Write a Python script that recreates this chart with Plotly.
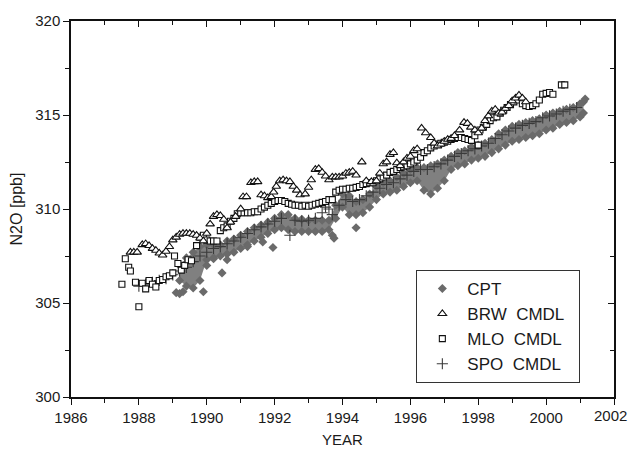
import plotly.graph_objects as go

# ---------------- data ----------------
# CPT: dense measurements forming a band -> lower / upper envelope every 0.2 yr
cpt_year = [1989.2, 1989.4, 1989.6, 1989.8, 1990.0, 1990.2, 1990.4, 1990.6, 1990.8,
            1991.0, 1991.2, 1991.4, 1991.6, 1991.8, 1992.0, 1992.2, 1992.4, 1992.6,
            1992.8, 1993.0, 1993.2, 1993.4, 1993.6, 1993.8, 1994.0, 1994.2, 1994.4,
            1994.6, 1994.8, 1995.0, 1995.2, 1995.4, 1995.6, 1995.8, 1996.0, 1996.2,
            1996.4, 1996.6, 1996.8, 1997.0, 1997.2, 1997.4, 1997.6, 1997.8, 1998.0,
            1998.2, 1998.4, 1998.6, 1998.8, 1999.0, 1999.2, 1999.4, 1999.6, 1999.8,
            2000.0, 2000.2, 2000.4, 2000.6, 2000.8, 2001.0, 2001.1]
cpt_low = [306.2, 305.9, 305.8, 306.2, 307.3, 307.4, 307.5, 307.6, 307.7,
           307.9, 308.1, 308.3, 308.5, 308.7, 308.9, 309.0, 308.9, 308.8,
           308.8, 308.8, 308.8, 308.8, 308.9, 309.5, 310.1, 309.7, 309.7,
           309.8, 310.1, 310.5, 310.8, 310.9, 311.0, 311.2, 311.4, 311.5,
           311.0, 310.8, 311.1, 311.5, 312.1, 312.3, 312.4, 312.6, 312.7,
           312.8, 313.0, 313.2, 313.4, 313.6, 313.7, 313.8, 313.9, 314.0,
           314.2, 314.3, 314.5, 314.6, 314.7, 314.9, 315.1]
cpt_high = [307.0, 307.4, 307.7, 308.0, 308.1, 308.1, 308.1, 308.3, 308.4,
            308.6, 308.8, 309.0, 309.15, 309.3, 309.5, 309.7, 309.7, 309.5,
            309.45, 309.4, 309.4, 309.4, 309.4, 310.2, 310.8, 310.7, 310.4,
            310.5, 310.8, 311.2, 311.4, 311.5, 311.7, 311.9, 312.1, 312.2,
            312.2, 312.3, 312.4, 312.6, 312.8, 313.0, 313.1, 313.3, 313.4,
            313.5, 313.7, 314.0, 314.2, 314.4, 314.5, 314.6, 314.7, 314.8,
            315.0, 315.1, 315.2, 315.3, 315.4, 315.6, 315.7]
# CPT isolated measurements
cpt_iso_year = [1989.1, 1989.2, 1989.3, 1989.9, 1990.0, 1990.2, 1990.45, 1990.6,
                1991.2, 1991.65, 1991.95, 1993.7, 1993.75, 1994.4, 2001.15]
cpt_iso_val = [305.55, 305.5, 305.6, 305.6, 307.0, 307.35, 306.6, 307.3,
               308.0, 308.25, 307.95, 308.6, 308.45, 309.0, 315.85]

brw_year = [1987.75, 1987.85, 1987.95, 1988.1, 1988.2, 1988.3, 1988.4, 1988.5, 1988.6,
            1988.7, 1988.8, 1988.9, 1989.0, 1989.1, 1989.2, 1989.3, 1989.4, 1989.5,
            1989.6, 1989.7, 1989.8, 1989.9, 1990.0, 1990.1, 1990.2, 1990.3, 1990.4,
            1990.5, 1990.6, 1990.7, 1990.85, 1991.0, 1991.07, 1991.17, 1991.3, 1991.4,
            1991.5, 1991.6, 1991.7, 1991.8, 1991.9, 1991.97, 1992.05, 1992.15, 1992.25,
            1992.35, 1992.45, 1992.55, 1992.65, 1992.75, 1992.9, 1993.0, 1993.08, 1993.2,
            1993.3, 1993.4, 1993.5, 1993.6, 1993.7, 1993.8, 1993.9, 1994.0, 1994.1,
            1994.2, 1994.3, 1994.4, 1994.57, 1994.7, 1994.85, 1995.0, 1995.1, 1995.2,
            1995.3, 1995.4, 1995.5, 1995.6, 1995.7, 1995.8, 1995.9, 1996.0, 1996.1,
            1996.2, 1996.33, 1996.45, 1996.6, 1996.7, 1996.8, 1996.9, 1997.0, 1997.1,
            1997.2, 1997.3, 1997.45, 1997.58, 1997.68, 1997.78, 1997.9, 1998.0, 1998.1,
            1998.2, 1998.3, 1998.4, 1998.5, 1998.6, 1998.7, 1998.8, 1998.9, 1999.0,
            1999.1, 1999.2, 1999.3, 1999.4]
brw_val = [307.7, 307.7, 307.7, 308.1, 308.15, 308.05, 307.9, 307.8, 307.65,
           307.55, 307.75, 308.0, 308.35, 308.5, 308.65, 308.7, 308.7, 308.7,
           308.65, 308.6, 308.45, 308.3, 308.7, 309.2, 309.6, 309.7, 309.65,
           309.45, 309.0, 309.3, 309.6, 310.0, 310.65, 310.65, 311.4, 311.45,
           311.45, 310.75, 310.7, 310.6, 310.65, 310.9, 311.2, 311.5, 311.55,
           311.5, 311.45, 311.2, 311.0, 310.75, 310.8, 311.15, 311.55, 312.1,
           312.15, 311.95, 311.75, 311.55, 311.7, 311.7, 311.7, 311.75, 311.9,
           311.95, 312.0, 311.8, 312.5, 311.5, 311.45, 311.5, 311.9, 312.4,
           312.5, 312.9, 313.0, 312.45, 312.3, 312.5, 312.7, 312.8, 313.1,
           313.2, 314.3, 314.05, 313.8, 313.5, 313.35, 313.45, 313.6, 313.7,
           313.75, 313.9, 314.2, 314.6, 314.55, 314.35, 314.2, 314.05, 314.3,
           314.7, 314.95, 315.2, 315.3, 315.1, 315.15, 315.35, 315.5, 315.75,
           315.9, 316.05, 315.9, 315.7]

mlo_year = [1987.5, 1987.6, 1987.7, 1987.75, 1987.9, 1988.0, 1988.1, 1988.2, 1988.3,
            1988.4, 1988.5, 1988.6, 1988.7, 1988.8, 1988.9, 1989.0, 1989.05, 1989.15,
            1989.25, 1989.35, 1989.45, 1989.55, 1989.7, 1989.8, 1989.9, 1990.0, 1990.1,
            1990.2, 1990.3, 1990.4, 1990.5, 1990.6, 1990.7, 1990.8, 1990.9, 1991.0,
            1991.1, 1991.2, 1991.3, 1991.4, 1991.5, 1991.6, 1991.7, 1991.8, 1991.9,
            1992.0, 1992.1, 1992.2, 1992.3, 1992.4, 1992.5, 1992.6, 1992.7, 1992.8,
            1992.9, 1993.0, 1993.1, 1993.2, 1993.3, 1993.4, 1993.5, 1993.6, 1993.7,
            1993.8, 1993.9, 1994.0, 1994.1, 1994.2, 1994.3, 1994.4, 1994.5, 1994.6,
            1994.7, 1994.8, 1994.9, 1995.0, 1995.1, 1995.2, 1995.3, 1995.4, 1995.5,
            1995.6, 1995.7, 1995.8, 1995.9, 1996.0, 1996.1, 1996.2, 1996.3, 1996.4,
            1996.5, 1996.6, 1996.7, 1996.8, 1996.9, 1997.0, 1997.1, 1997.2, 1997.3,
            1997.4, 1997.5, 1997.6, 1997.7, 1997.8, 1997.9, 1998.0, 1998.05, 1998.15,
            1998.25, 1998.35, 1998.45, 1998.55, 1998.65, 1998.75, 1998.85, 1998.95,
            1999.05, 1999.15, 1999.3, 1999.4, 1999.5, 1999.6, 1999.7, 1999.8, 1999.9,
            2000.0, 2000.1, 2000.2, 2000.45, 2000.55]
mlo_val = [306.0, 307.35, 306.9, 306.7, 306.1, 304.8, 306.05, 305.75, 306.2,
           306.0, 305.85, 306.2, 306.25, 306.4, 306.45, 306.6, 307.5, 307.1,
           306.75, 307.0, 307.3, 307.25, 308.05, 308.5, 308.6, 308.35, 308.3,
           308.3, 308.3, 308.85, 309.0, 309.1, 309.35, 309.5, 309.75, 309.8,
           309.8, 309.8, 309.8, 309.85, 309.85, 310.0, 310.1, 310.2, 310.3,
           310.4, 310.45, 310.45, 310.4, 310.3, 310.25, 310.2, 310.2, 310.15,
           310.2, 310.15, 310.2, 310.25, 310.3, 310.35, 310.4, 310.5, 310.5,
           310.9, 311.0, 311.05, 311.05, 311.1, 311.1, 311.15, 311.2, 311.3,
           311.35, 311.4, 311.4, 311.5, 311.6, 311.7, 311.8, 311.95, 312.0,
           312.1, 312.2, 312.25, 312.3, 312.4, 312.5, 312.6, 312.75, 313.0,
           313.1, 313.25, 313.35, 313.45, 313.5, 313.55, 313.6, 313.7, 313.75,
           313.8, 313.8, 313.75, 313.7, 313.65, 313.9, 313.4, 314.2, 314.35,
           314.5, 314.7, 314.85, 314.9, 315.1, 315.25, 315.4, 315.55,
           315.7, 315.8, 315.6, 315.5, 315.45, 315.5, 315.6, 315.8, 316.1,
           316.15, 316.2, 316.1, 316.6, 316.6]

spo_year = [1988.0, 1988.2, 1988.4, 1988.6, 1988.8, 1989.0, 1989.2, 1989.4, 1989.6,
            1989.8, 1990.0, 1990.2, 1990.4, 1990.6, 1990.8, 1991.0, 1991.2, 1991.4,
            1991.6, 1991.8, 1992.0, 1992.2, 1992.45, 1992.6, 1992.8, 1993.0, 1993.2,
            1993.4, 1993.5, 1993.6, 1993.7, 1993.9, 1994.1, 1994.3, 1994.5, 1994.7,
            1994.9, 1995.1, 1995.3, 1995.5, 1995.7, 1995.9, 1996.1, 1996.3, 1996.5,
            1996.7, 1996.9, 1997.1, 1997.3, 1997.5, 1997.7, 1997.9, 1998.1, 1998.3,
            1998.5, 1998.7, 1998.9, 1999.1, 1999.3, 1999.5, 1999.7, 1999.9, 2000.1,
            2000.3, 2000.5, 2000.7, 2000.9]
spo_val = [305.9, 306.0, 306.1, 306.2, 306.3, 306.5, 306.7, 306.9, 307.2,
           307.5, 307.7, 307.9, 308.0, 308.15, 308.3, 308.5, 308.7, 308.9,
           309.05, 309.2, 309.35, 309.5, 308.6, 309.4, 309.35, 309.4, 309.5,
           309.8, 310.1, 310.0, 309.7, 310.2, 310.5, 310.4, 310.5, 310.7,
           310.9, 311.1, 311.3, 311.4, 311.6, 311.8, 312.0, 312.1, 312.1,
           312.25, 312.4, 312.6, 312.8, 312.95, 313.1, 313.2, 313.35, 313.5,
           313.75, 313.95, 314.15, 314.3, 314.45, 314.55, 314.65, 314.85, 314.95,
           315.05, 315.2, 315.3, 315.4]

x_ticks = [1986, 1988, 1990, 1992, 1994, 1996, 1998, 2000, 2002]
x_tick_text = ["1986", "1988", "1990", "1992", "1994", "1996", "1998", "2000", ""]
last_x_label = "2002"
y_ticks = [300, 305, 310, 315, 320]

# ---------------- figure ----------------
FONT = "Liberation Sans, Arial, sans-serif"
band_col = "#808080"
dia_col = "#6a6a6a"
NB = "\u00a0"

fig = go.Figure()

fig.add_trace(go.Scatter(x=cpt_year, y=cpt_low, mode="lines", line=dict(width=0, color=band_col),
                         showlegend=False, hoverinfo="skip"))
fig.add_trace(go.Scatter(x=cpt_year, y=cpt_high, mode="lines", line=dict(width=0, color=band_col),
                         fill="tonexty", fillcolor=band_col, showlegend=False, hoverinfo="skip"))
fig.add_trace(go.Scatter(x=cpt_year + cpt_year + cpt_iso_year, y=cpt_high + cpt_low + cpt_iso_val,
                         mode="markers", name="CPT", legendrank=1,
                         marker=dict(symbol="diamond", size=7, color=dia_col, line=dict(width=0))))
fig.add_trace(go.Scatter(x=spo_year, y=spo_val, mode="markers", name="SPO" + NB + " CMDL" + NB * 2, legendrank=4,
                         marker=dict(symbol="cross-thin", size=8, line=dict(width=1.1, color="#3a3a3a"))))
fig.add_trace(go.Scatter(x=mlo_year, y=mlo_val, mode="markers", name="MLO" + NB + " CMDL", legendrank=3,
                         marker=dict(symbol="square", size=6, color="white", line=dict(width=1.1, color="#111111"))))
fig.add_trace(go.Scatter(x=brw_year, y=brw_val, mode="markers", name="BRW" + NB + " CMDL" + NB * 2, legendrank=2,
                         marker=dict(symbol="triangle-up", size=7.5, color="white", line=dict(width=1.1, color="#111111"))))
# invisible trace to carry the mirrored (top/right) axes
fig.add_trace(go.Scatter(x=[None], y=[None], xaxis="x2", yaxis="y2", showlegend=False, hoverinfo="skip"))

axis_common = dict(showgrid=False, zeroline=False, showline=True, linecolor="#111111", linewidth=1.5,
                   tickcolor="#111111", tickwidth=1.3, automargin=False)

fig.update_layout(
    width=630, height=452,
    margin=dict(l=71, r=16, t=21, b=55, autoexpand=False),
    paper_bgcolor="white", plot_bgcolor="white",
    font=dict(family=FONT, size=15, color="#1a1a1a"),
    showlegend=True,
    legend=dict(x=0.636, y=0.338, xanchor="left", yanchor="top", traceorder="normal",
                bgcolor="white", bordercolor="#333333", borderwidth=1,
                font=dict(family=FONT, size=17, color="#1a1a1a"),
                itemwidth=40, tracegroupgap=0),
    xaxis=dict(range=[1986, 2002], tickvals=x_ticks, ticktext=x_tick_text, ticks="outside", ticklen=6,
               minor=dict(dtick=1, ticks="outside", ticklen=4, tickcolor="#111111"),
               title=dict(text="YEAR", font=dict(size=15), standoff=10), **axis_common),
    yaxis=dict(range=[300, 320], tickvals=y_ticks, ticks="outside", ticklen=6,
               minor=dict(dtick=2.5, ticks="outside", ticklen=4, tickcolor="#111111"),
               title=dict(text="N2O [ppb]", font=dict(size=16), standoff=9), **axis_common),
    xaxis2=dict(range=[1986, 2002], overlaying="x", side="top", anchor="y", tickvals=x_ticks,
                ticks="inside", ticklen=6, showticklabels=False,
                minor=dict(dtick=1, ticks="inside", ticklen=4, tickcolor="#111111"), **axis_common),
    yaxis2=dict(range=[300, 320], overlaying="y", side="right", anchor="x", tickvals=y_ticks,
                ticks="inside", ticklen=6, showticklabels=False,
                minor=dict(dtick=2.5, ticks="inside", ticklen=4, tickcolor="#111111"), **axis_common),
    annotations=[dict(text=last_x_label, xref="paper", yref="paper", x=1, y=0,
                      xanchor="right", yanchor="top", xshift=15, yshift=-8, showarrow=False,
                      font=dict(family=FONT, size=15, color="#1a1a1a"))],
)

fig.write_html("out.html", config={"displayModeBar": False},
               post_script="document.body.style.margin='0';document.body.style.padding='0';")
